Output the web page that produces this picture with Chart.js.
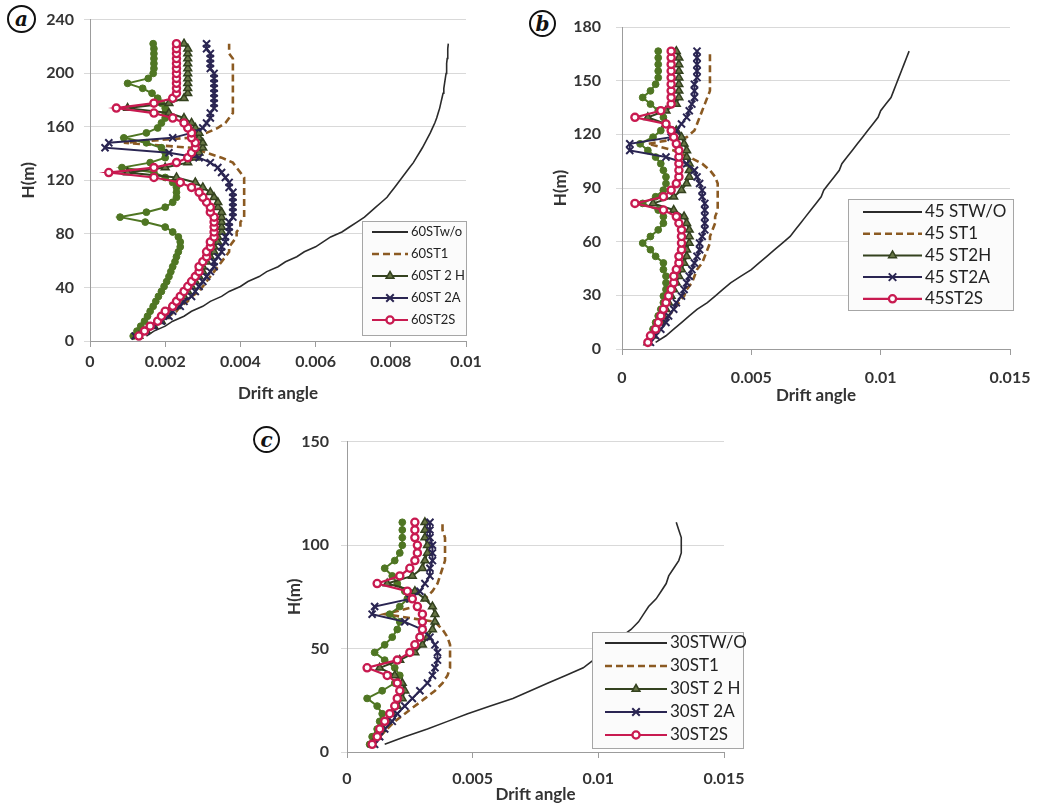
<!DOCTYPE html>
<html>
<head>
<meta charset="utf-8">
<title>Drift angle profiles</title>
<script src="https://cdn.jsdelivr.net/npm/chart.js@4.4.1/dist/chart.umd.min.js"></script>
<style>
  body { margin: 0; background: #fff; width: 1047px; height: 809px; position: relative; overflow: hidden; }
  canvas { position: absolute; }
  .tag {
    position: absolute; box-sizing: border-box; border: 2px solid #111; border-radius: 50%;
    display: flex; align-items: center; justify-content: center;
    font: italic bold 20px "DejaVu Serif", serif; color: #111; line-height: 1;
  }
</style>
</head>
<body>
<div class="tag" style="left:7px;top:5px;width:29px;height:28px;">a</div>
<div class="tag" style="left:529px;top:10px;width:27px;height:27px;">b</div>
<div class="tag" style="left:253px;top:426px;width:27px;height:27px;">c</div>

<canvas id="chartA" width="500" height="412" style="left:0;top:0"></canvas>
<canvas id="chartB" width="527" height="412" style="left:520px;top:0"></canvas>
<canvas id="chartC" width="530" height="389" style="left:250px;top:420px"></canvas>

<script>
// storey levels (m), 3.7 m per storey
const storyHeights = [3.7, 7.4, 11.1, 14.8, 18.5, 22.2, 25.9, 29.6, 33.3, 37,
  40.7, 44.4, 48.1, 51.8, 55.5, 59.2, 62.9, 66.6, 70.3, 74,
  77.7, 81.4, 85.1, 88.8, 92.5, 96.2, 99.9, 103.6, 107.3, 111,
  114.7, 118.4, 122.1, 125.8, 129.5, 133.2, 136.9, 140.6, 144.3, 148,
  151.7, 155.4, 159.1, 162.8, 166.5, 170.2, 173.9, 177.6, 181.3, 185,
  188.7, 192.4, 196.1, 199.8, 203.5, 207.2, 210.9, 214.6, 218.3, 222];

// ---- (a) 60 storeys ----
const labelsA = ["60STw/o", "60ST1", "60ST 2 H", "60ST 2A", "60ST2S"];
const xTicksA = [0, 0.002, 0.004, 0.006, 0.008, 0.01];
const xLabelsA = ["0", "0.002", "0.004", "0.006", "0.008", "0.01"];
const yTicksA = [0, 40, 80, 120, 160, 200, 240];

const woA = [0.0015, 0.0017, 0.0020, 0.0022, 0.0025, 0.0027, 0.0030, 0.0032, 0.0035, 0.0037,
  0.0040, 0.0042, 0.0045, 0.0047, 0.0050, 0.0052, 0.0055, 0.0057, 0.0060, 0.0062,
  0.0064, 0.0067, 0.0069, 0.0071, 0.0073, 0.00745, 0.0076, 0.00775, 0.0079, 0.0080,
  0.0081, 0.0082, 0.0083, 0.0084, 0.0085, 0.0086, 0.00868, 0.00876, 0.00884, 0.00891,
  0.00898, 0.00905, 0.00911, 0.00917, 0.00922, 0.00926, 0.0093, 0.00933, 0.00936, 0.00939,
  0.00941, 0.00943, 0.00945, 0.00947, 0.00948, 0.00949, 0.0095, 0.00951, 0.00952, 0.00953];
const st1A = [0.0013, 0.0015, 0.0017, 0.0019, 0.0021, 0.0023, 0.0024, 0.0026, 0.0027, 0.0029,
  0.0030, 0.0031, 0.0032, 0.0033, 0.0034, 0.0035, 0.0036, 0.0037, 0.0037, 0.0038,
  0.0039, 0.0039, 0.0040, 0.0040, 0.0041, 0.0041, 0.0041, 0.0041, 0.0041, 0.0041,
  0.0041, 0.0041, 0.0041, 0.0040, 0.0039, 0.0038, 0.0035, 0.0031, 0.0027, 0.0009,
  0.0026, 0.0031, 0.0034, 0.0036, 0.0037, 0.0038, 0.0038, 0.0038, 0.0038, 0.0038,
  0.0038, 0.0038, 0.0038, 0.0038, 0.0038, 0.0038, 0.0038, 0.0037, 0.0037, 0.0037];
const st2hA = [0.0013, 0.0015, 0.0017, 0.0019, 0.0020, 0.0021, 0.0023, 0.0024, 0.0025, 0.0026,
  0.0027, 0.0028, 0.0029, 0.0030, 0.0030, 0.0031, 0.0032, 0.0033, 0.0033, 0.0034,
  0.0034, 0.0035, 0.0035, 0.0035, 0.0035, 0.0035, 0.0034, 0.0034, 0.0033, 0.0032,
  0.0030, 0.0028, 0.0023, 0.0010, 0.0020, 0.0026, 0.0028, 0.0029, 0.0030, 0.0030,
  0.0029, 0.0029, 0.0028, 0.0027, 0.0025, 0.0021, 0.0010, 0.0021, 0.0025, 0.0026,
  0.0026, 0.0026, 0.0026, 0.0026, 0.0026, 0.0026, 0.0026, 0.0026, 0.0026, 0.0025];
const st2aA = [0.0012, 0.0015, 0.0017, 0.0019, 0.0021, 0.0022, 0.0024, 0.0025, 0.0027, 0.0028,
  0.0029, 0.0030, 0.0031, 0.0032, 0.0033, 0.0033, 0.0034, 0.0035, 0.0035, 0.0036,
  0.0036, 0.0037, 0.0037, 0.0037, 0.0038, 0.0038, 0.0038, 0.0038, 0.0038, 0.0038,
  0.0037, 0.0037, 0.0036, 0.0035, 0.0034, 0.0032, 0.0029, 0.0021, 0.0004, 0.0005,
  0.0022, 0.0027, 0.0030, 0.0031, 0.0032, 0.0032, 0.0033, 0.0033, 0.0033, 0.0033,
  0.0033, 0.0033, 0.0033, 0.0033, 0.0032, 0.0032, 0.0032, 0.0032, 0.0031, 0.0031];
const st2sA = [0.0013, 0.00145, 0.0016, 0.0018, 0.0019, 0.0020, 0.0022, 0.0023, 0.0024, 0.0025,
  0.0026, 0.0027, 0.0028, 0.0029, 0.0029, 0.0030, 0.0031, 0.0031, 0.0032, 0.0032,
  0.0033, 0.0033, 0.0033, 0.0033, 0.0033, 0.0032, 0.0032, 0.0031, 0.0030, 0.0029,
  0.0027, 0.0024, 0.0017, 0.0005, 0.0017, 0.0023, 0.0026, 0.0027, 0.0028, 0.0028,
  0.0027, 0.0027, 0.0026, 0.0025, 0.0022, 0.0017, 0.0007, 0.0017, 0.0022, 0.0023,
  0.0023, 0.0023, 0.0023, 0.0023, 0.0023, 0.0023, 0.0023, 0.0023, 0.0023, 0.0023];
// green filled-circle series (not listed in the legend)
const extraA = [0.00115, 0.00125, 0.00135, 0.00145, 0.00153, 0.0016, 0.00168, 0.00175, 0.00182, 0.0019,
  0.00197, 0.00204, 0.0021, 0.00215, 0.0022, 0.00226, 0.0023, 0.00235, 0.0024, 0.0024,
  0.00235, 0.0022, 0.0020, 0.00147, 0.0008, 0.0015, 0.0020, 0.0022, 0.0023, 0.0023,
  0.0023, 0.0022, 0.0020, 0.0017, 0.00085, 0.0016, 0.0020, 0.0020, 0.0019, 0.0015,
  0.0009, 0.0015, 0.0018, 0.0019, 0.0020, 0.0020, 0.0020, 0.0019, 0.0018, 0.00165,
  0.0014, 0.0010, 0.00155, 0.00168, 0.0017, 0.0017, 0.0017, 0.0017, 0.0017, 0.00168];

// ---- (b) 45 storeys ----
const labelsB = ["45 STW/O", "45 ST1", "45 ST2H", "45 ST2A", "45ST2S"];
const xTicksBC = [0, 0.005, 0.01, 0.015];
const xLabelsBC = ["0", "0.005", "0.01", "0.015"];
const yTicksB = [0, 30, 60, 90, 120, 150, 180];

const woB = [0.0013, 0.0017, 0.0020, 0.0023, 0.0026, 0.0029, 0.0033, 0.0036, 0.0039, 0.0042,
  0.0046, 0.0050, 0.0053, 0.0056, 0.0059, 0.0062, 0.0065, 0.0067, 0.0069, 0.0071,
  0.0073, 0.0075, 0.0077, 0.0078, 0.0080, 0.0082, 0.0084, 0.0085, 0.0087, 0.0089,
  0.0091, 0.0093, 0.0095, 0.0097, 0.0099, 0.0100, 0.0102, 0.0104, 0.0105, 0.0106,
  0.0107, 0.0108, 0.0109, 0.0110, 0.0111];
const st1B = [0.0010, 0.0012, 0.0014, 0.0016, 0.0018, 0.0020, 0.0022, 0.0024, 0.0025, 0.0027,
  0.0028, 0.0029, 0.0031, 0.0032, 0.0033, 0.0034, 0.0034, 0.0035, 0.0036, 0.0036,
  0.0037, 0.0037, 0.0037, 0.0037, 0.0037, 0.0036, 0.0034, 0.0031, 0.0026, 0.0020,
  0.0010, 0.0025, 0.0028, 0.0029, 0.0030, 0.0031, 0.0032, 0.0033, 0.0034, 0.0034,
  0.0034, 0.0034, 0.0034, 0.0034, 0.0034];
const st2hB = [0.0010, 0.0012, 0.0013, 0.0015, 0.0016, 0.0017, 0.0018, 0.0019, 0.0020, 0.0021,
  0.0022, 0.0023, 0.0024, 0.0025, 0.0025, 0.0026, 0.0026, 0.0026, 0.0025, 0.0024,
  0.0020, 0.0012, 0.0020, 0.0023, 0.0025, 0.0026, 0.0026, 0.0026, 0.0025, 0.0025,
  0.0024, 0.0023, 0.0021, 0.0017, 0.0010, 0.0017, 0.0021, 0.0022, 0.0022, 0.0022,
  0.0022, 0.0022, 0.0022, 0.0022, 0.0021];
const st2aB = [0.0011, 0.0013, 0.0015, 0.0017, 0.0018, 0.0020, 0.0021, 0.0023, 0.0024, 0.0025,
  0.0026, 0.0027, 0.0028, 0.0029, 0.0030, 0.0030, 0.0031, 0.0032, 0.0032, 0.0032,
  0.0032, 0.0032, 0.0031, 0.0031, 0.0030, 0.0029, 0.0028, 0.0025, 0.0017, 0.0003,
  0.0003, 0.0019, 0.0021, 0.0023, 0.0025, 0.0026, 0.0027, 0.0028, 0.0028, 0.0028,
  0.0029, 0.0029, 0.0029, 0.0029, 0.0029];
const st2sB = [0.0010, 0.0011, 0.0013, 0.0014, 0.0015, 0.0016, 0.0017, 0.0018, 0.0019, 0.0020,
  0.0020, 0.0021, 0.0022, 0.0022, 0.0023, 0.0023, 0.0023, 0.0023, 0.0022, 0.0021,
  0.0016, 0.0005, 0.0016, 0.0019, 0.0021, 0.0022, 0.0022, 0.0022, 0.0022, 0.0022,
  0.0021, 0.0020, 0.0019, 0.0017, 0.0005, 0.0015, 0.0019, 0.0019, 0.0019, 0.0019,
  0.0019, 0.0019, 0.0019, 0.0019, 0.0019];
const extraB = [0.0010, 0.0011, 0.0012, 0.0013, 0.0014, 0.0015, 0.0016, 0.0016, 0.0017, 0.0017,
  0.0017, 0.0016, 0.0016, 0.0013, 0.0011, 0.0008, 0.0011, 0.0014, 0.0016, 0.0016,
  0.0014, 0.0008, 0.0013, 0.0016, 0.0017, 0.0017, 0.0016, 0.0015, 0.0013, 0.0010,
  0.0007, 0.0012, 0.0015, 0.0017, 0.0016, 0.0014, 0.0011, 0.0008, 0.0011, 0.0013,
  0.0014, 0.0014, 0.0014, 0.0014, 0.0014];

// ---- (c) 30 storeys ----
const labelsC = ["30STW/O", "30ST1", "30ST 2 H", "30ST 2A", "30ST2S"];
const yTicksC = [0, 50, 100, 150];

const woC = [0.0015, 0.0023, 0.0032, 0.0040, 0.0048, 0.0057, 0.0066, 0.0073, 0.0080, 0.0087,
  0.0094, 0.0098, 0.0102, 0.0106, 0.0109, 0.0113, 0.0116, 0.0118, 0.0120, 0.0123,
  0.0125, 0.0127, 0.0128, 0.0130, 0.0132, 0.0133, 0.0133, 0.0133, 0.0132, 0.0131];
const st1C = [0.0010, 0.0013, 0.0016, 0.0019, 0.0023, 0.0027, 0.0031, 0.0035, 0.0038, 0.0040,
  0.0041, 0.0041, 0.0041, 0.0041, 0.0040, 0.0038, 0.0035, 0.0015, 0.0027, 0.0031,
  0.0034, 0.0036, 0.0037, 0.0038, 0.0039, 0.0039, 0.0039, 0.0039, 0.0038, 0.0038];
const st2hC = [0.0010, 0.0012, 0.0014, 0.0016, 0.0018, 0.0020, 0.0022, 0.0023, 0.0022, 0.0019,
  0.0013, 0.0021, 0.0027, 0.0030, 0.0032, 0.0034, 0.0035, 0.0035, 0.0034, 0.0031,
  0.0027, 0.0016, 0.0026, 0.0030, 0.0031, 0.0032, 0.0032, 0.0031, 0.0031, 0.0031];
const st2aC = [0.0011, 0.0013, 0.0015, 0.0018, 0.0020, 0.0023, 0.0026, 0.0029, 0.0032, 0.0034,
  0.0035, 0.0036, 0.0036, 0.0035, 0.0033, 0.0030, 0.0023, 0.0010, 0.0011, 0.0025,
  0.0029, 0.0031, 0.0033, 0.0033, 0.0034, 0.0034, 0.0034, 0.0033, 0.0033, 0.0033];
const st2sC = [0.0010, 0.0012, 0.0013, 0.0015, 0.0017, 0.0019, 0.0020, 0.0021, 0.0020, 0.0016,
  0.0008, 0.0020, 0.0025, 0.0027, 0.0029, 0.0030, 0.0030, 0.0030, 0.0028, 0.0026,
  0.0024, 0.0012, 0.0021, 0.0025, 0.0027, 0.0028, 0.0028, 0.0027, 0.0027, 0.0027];
const extraC = [0.0009, 0.0010, 0.0012, 0.0013, 0.0014, 0.0012, 0.0008, 0.0014, 0.0019, 0.0021,
  0.0019, 0.0015, 0.0011, 0.0015, 0.0018, 0.0020, 0.0021, 0.0017, 0.0021, 0.0024,
  0.0023, 0.0020, 0.0018, 0.0015, 0.0019, 0.0021, 0.0022, 0.0022, 0.0022, 0.0022];

// line / marker look of each series kind
const seriesStyle = {
  wo:    { borderColor: "#2b2b2b", borderWidth: 1.6, pointRadius: 0, order: 5 },
  st1:   { borderColor: "#8b5a22", borderWidth: 2.6, borderDash: [7, 4], pointRadius: 0, order: 4 },
  extra: { borderColor: "#4f7623", pointBackgroundColor: "#4f7623", pointBorderColor: "#4f7623",
           borderWidth: 2, pointStyle: "circle", pointRadius: 3.4, pointBorderWidth: 1, order: 3 },
  st2h:  { borderColor: "#34421f", pointBackgroundColor: "#667545", pointBorderColor: "#34421f",
           borderWidth: 2, pointStyle: "triangle", pointRadius: 4.5, pointBorderWidth: 1.5, order: 2 },
  st2a:  { borderColor: "#2a2552", pointBorderColor: "#2a2552", borderWidth: 2,
           pointStyle: "crossRot", pointRadius: 5, pointBorderWidth: 2, order: 1 },
  st2s:  { borderColor: "#c81a50", pointBackgroundColor: "#ffffff", pointBorderColor: "#c81a50",
           borderWidth: 2.2, pointStyle: "circle", pointRadius: 3.6, pointBorderWidth: 2.3, order: 0 },
};

function drawMarker(ctx, ds, x, y) {
  const r = ds.pointRadius;
  ctx.save();
  ctx.lineWidth = ds.pointBorderWidth || 1.5;
  ctx.strokeStyle = ds.pointBorderColor || ds.borderColor;
  ctx.fillStyle = ds.pointBackgroundColor || ds.borderColor;
  ctx.beginPath();
  if (ds.pointStyle === "crossRot") {
    ctx.moveTo(x - r * 0.75, y - r * 0.75); ctx.lineTo(x + r * 0.75, y + r * 0.75);
    ctx.moveTo(x + r * 0.75, y - r * 0.75); ctx.lineTo(x - r * 0.75, y + r * 0.75);
    ctx.stroke();
  } else {
    if (ds.pointStyle === "triangle") {
      ctx.moveTo(x, y - r);
      ctx.lineTo(x + r * 0.87, y + r * 0.5);
      ctx.lineTo(x - r * 0.87, y + r * 0.5);
      ctx.closePath();
    } else {
      ctx.arc(x, y, r, 0, Math.PI * 2);
    }
    ctx.fill();
    ctx.stroke();
  }
  ctx.restore();
}

// boxed legend placed inside the plot, like the spreadsheet original
const boxLegend = {
  id: "boxLegend",
  afterDraw(chart, args, o) {
    const ctx = chart.ctx;
    ctx.save();
    ctx.fillStyle = "#fbfbfb";
    ctx.fillRect(o.x, o.y, o.w, o.h);
    ctx.strokeStyle = "#a6a6a6";
    ctx.lineWidth = 1;
    ctx.strokeRect(o.x + 0.5, o.y + 0.5, o.w, o.h);
    chart.data.datasets.forEach(ds => {
      if (ds.legendRow === undefined) return;
      const y = o.y + o.firstRow + ds.legendRow * o.rowH;
      ctx.setLineDash(ds.borderDash || []);
      ctx.strokeStyle = ds.borderColor;
      ctx.lineWidth = Math.max(ds.borderWidth, 2);
      ctx.beginPath();
      ctx.moveTo(o.lineX0, y);
      ctx.lineTo(o.lineX1, y);
      ctx.stroke();
      ctx.setLineDash([]);
      if (ds.pointRadius > 0) drawMarker(ctx, ds, (o.lineX0 + o.lineX1) / 2, y);
      ctx.fillStyle = "#222";
      ctx.font = o.font;
      ctx.textAlign = "left";
      ctx.textBaseline = "middle";
      ctx.fillText(ds.label, o.textX, y);
    });
    ctx.restore();
  },
};

Chart.defaults.font.family = "Lato, 'Open Sans', sans-serif";

function drawPanel(canvasId, p) {
  const kinds = [
    ["wo", p.wo, 0], ["st1", p.st1, 1], ["extra", p.extra, undefined],
    ["st2h", p.st2h, 2], ["st2a", p.st2a, 3], ["st2s", p.st2s, 4],
  ];
  const datasets = kinds.map(([kind, values, row]) => Object.assign({
    label: row === undefined ? "" : p.labels[row],
    legendRow: row,
    showLine: true,
    tension: 0,
    data: values.map((v, i) => ({ x: v, y: p.heights[i] })),
  }, seriesStyle[kind]));

  const tickFont = { size: 16, weight: "bold" };
  const titleFont = { size: 17, weight: "bold" };

  new Chart(document.getElementById(canvasId), {
    type: "scatter",
    data: { datasets },
    options: {
      responsive: false,
      animation: false,
      devicePixelRatio: 1,
      layout: { padding: p.padding },
      scales: {
        x: {
          type: "linear",
          min: 0,
          max: p.xTicks[p.xTicks.length - 1],
          afterBuildTicks: s => { s.ticks = p.xTicks.map(v => ({ value: v })); },
          afterFit: s => { s.height = p.xHeight; },
          ticks: {
            autoSkip: false, maxRotation: 0, color: "#333", font: tickFont, padding: p.xTickPad,
            callback: (v, i) => p.xLabels[i],
          },
          grid: { drawOnChartArea: false, color: "#9c9c9c", tickLength: 6 },
          border: { color: "#9c9c9c" },
          title: { display: true, text: "Drift angle", color: "#333", font: titleFont,
                   padding: { top: 0, bottom: p.xTitlePad } },
        },
        y: {
          type: "linear",
          min: 0,
          max: p.yTicks[p.yTicks.length - 1],
          afterBuildTicks: s => { s.ticks = p.yTicks.map(v => ({ value: v })); },
          afterFit: s => { s.width = p.yWidth; },
          ticks: { autoSkip: false, color: "#333", font: tickFont, padding: p.yTickPad },
          grid: { color: "#d9d9d9", tickLength: 6 },
          border: { color: "#9c9c9c" },
          title: { display: true, text: "H(m)", color: "#333", font: titleFont,
                   padding: { top: p.yTitlePad, bottom: 0 } },
        },
      },
      plugins: {
        legend: { display: false },
        tooltip: { enabled: false },
        boxLegend: p.legend,
      },
    },
    plugins: [boxLegend],
  });
}

drawPanel("chartA", {
  heights: storyHeights, labels: labelsA,
  wo: woA, st1: st1A, extra: extraA, st2h: st2hA, st2a: st2aA, st2s: st2sA,
  xTicks: xTicksA, xLabels: xLabelsA, yTicks: yTicksA,
  padding: { left: 0, top: 19, right: 34, bottom: 0 },
  yWidth: 90, xHeight: 71, yTickPad: 10, xTickPad: 5, yTitlePad: 18, xTitlePad: 8,
  legend: { x: 362, y: 221, w: 104, h: 114, firstRow: 11, rowH: 22,
            lineX0: 372, lineX1: 408, textX: 411, font: "13px Lato" },
});

drawPanel("chartB", {
  heights: storyHeights.slice(0, 45), labels: labelsB,
  wo: woB, st1: st1B, extra: extraB, st2h: st2hB, st2a: st2aB, st2s: st2sB,
  xTicks: xTicksBC, xLabels: xLabelsBC, yTicks: yTicksB,
  padding: { left: 0, top: 27, right: 37, bottom: 0 },
  yWidth: 102, xHeight: 63, yTickPad: 15, xTickPad: 13, yTitlePad: 30, xTitlePad: 6,
  legend: { x: 328, y: 199, w: 165, h: 111, firstRow: 13, rowH: 21.7,
            lineX0: 343, lineX1: 402, textX: 405, font: "17px Lato" },
});

drawPanel("chartC", {
  heights: storyHeights.slice(0, 30), labels: labelsC,
  wo: woC, st1: st1C, extra: extraC, st2h: st2hC, st2a: st2aC, st2s: st2sC,
  xTicks: xTicksBC, xLabels: xLabelsBC, yTicks: yTicksC,
  padding: { left: 0, top: 19, right: 56, bottom: 0 },
  yWidth: 97, xHeight: 57, yTickPad: 12, xTickPad: 11, yTitlePad: 34, xTitlePad: 4,
  legend: { x: 342, y: 212, w: 151, h: 116, firstRow: 11, rowH: 23,
            lineX0: 355, lineX1: 417, textX: 420, font: "17px Lato" },
});
</script>
</body>
</html>
